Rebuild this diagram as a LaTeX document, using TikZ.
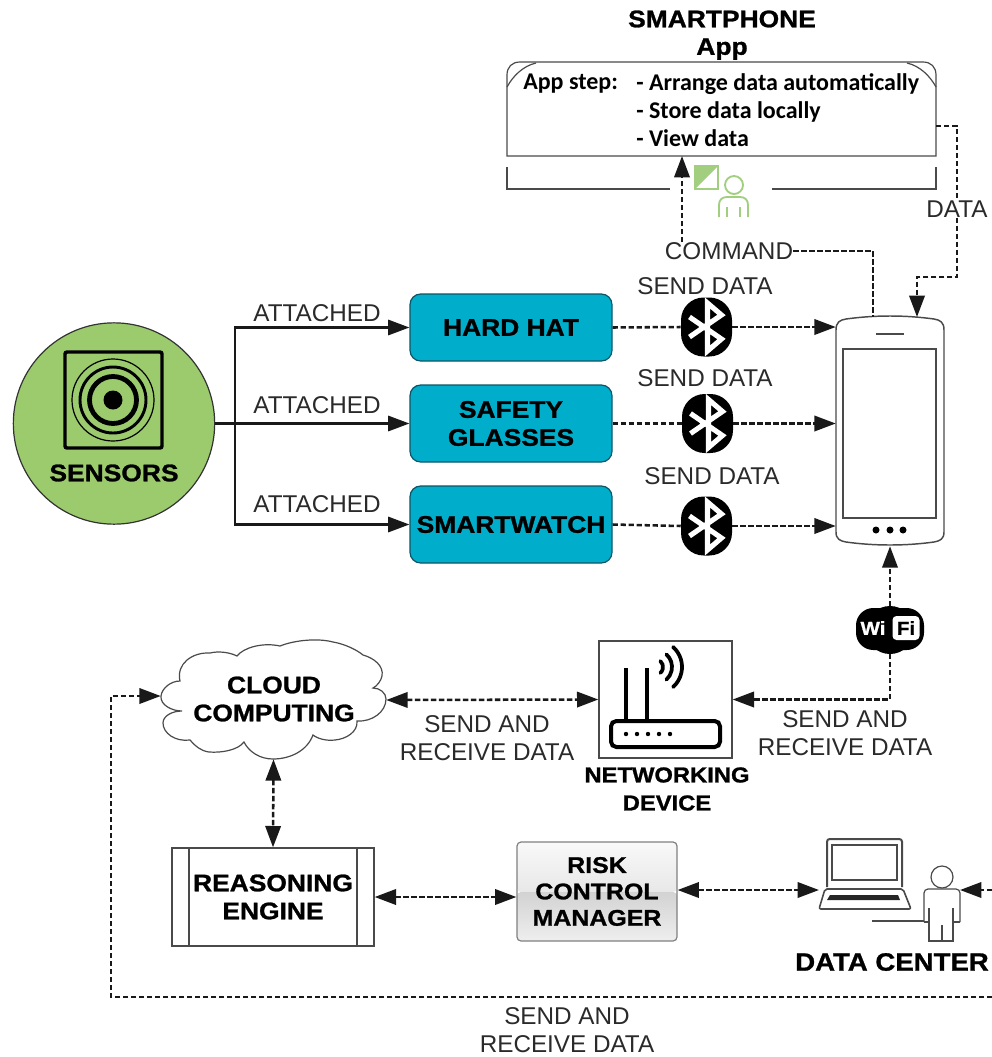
\documentclass[tikz,border=0pt]{standalone}
\usepackage{fontspec}
\usepackage{xcolor}
\setmainfont{Liberation Sans}
\newfontfamily\heavyfont[FakeStretch=1.1,FakeBold=1.1]{Liberation Sans Bold}
\newfontfamily\appfont{Carlito}
\usetikzlibrary{arrows.meta}
\definecolor{hatblue}{HTML}{00AECB}
\definecolor{hatedge}{HTML}{0B5566}
\definecolor{sensorgreen}{HTML}{9CCB6D}
\definecolor{usergreen}{HTML}{A2CE80}
\definecolor{inkgrey}{HTML}{2A2A2A}
\definecolor{edgegrey}{HTML}{4A4A4A}
\tikzset{
	bigtip/.tip={Triangle[length=16pt,width=11.5pt]},
	size/.style 2 args={minimum width=#1*0.75pt,minimum height=#2*0.75pt,inner sep=0pt},
	label/.style={font=\fontsize{18.2}{21}\selectfont,text=inkgrey,align=center,inner sep=0pt},
	title/.style={font=\heavyfont\fontsize{18}{21}\selectfont,text=black,align=center,inner sep=0pt},
	wire/.style={line width=1.7pt,draw=black!90},
	link/.style={line width=1.9pt,draw=black!90,dash pattern=on 4pt off 2pt},
	tagbox/.style={draw=hatedge,line width=0.9pt,fill=hatblue,rounded corners=8pt},
	thinline/.style={line width=0.9pt,draw=edgegrey}
}
\begin{document}
\begin{tikzpicture}[x=0.75pt,y=-0.75pt]
	\useasboundingbox (0,0) rectangle (992,1057);

	% App panel
	\node[title] (smart) at (722,19) {SMARTPHONE};
	\node[title] (applabel) at (722,49) {App};
	\node[size={429}{94}] (appbox) at (721.5,109) {};
	\draw[thinline] (507,156) -- (507,75) .. controls (507,67) and (512,62) .. (520,62) -- (923,62) .. controls (931,62) and (936,67) .. (936,75) -- (936,156) -- cycle;
	\draw[thinline] (507,87) .. controls (513,76) and (523,66) .. (536,63);
	\draw[thinline] (936,87) .. controls (930,76) and (920,66) .. (907,63);
	\draw[thinline] (507,167) -- (507,189) -- (670,189);
	\draw[thinline] (772,189) -- (936,189) -- (936,167);
	\node[anchor=base west,inner sep=0pt,font=\appfont\bfseries\fontsize{18}{21}\selectfont] (appstep) at (523,89) {App step:};
	\node[anchor=north west,inner sep=0pt,align=left,font=\appfont\bfseries\fontsize{18}{21.3}\selectfont] (appsteps) at (636,73) {- Arrange data automatically\\- Store data locally\\- View data};

	% Green user
	\fill[usergreen] (695,166) -- (718,166) -- (695,189) -- cycle;
	\draw[usergreen,line width=1.4pt] (695,166) rectangle (718,189);
	\draw[usergreen,line width=1.4pt] (734,185) circle (9);
	\draw[usergreen,line width=1.4pt] (719,217) -- (719,205) .. controls (719,200) and (722,197) .. (727,197) -- (740,197) .. controls (745,197) and (748,200) .. (748,205) -- (748,217);
	\draw[usergreen,line width=1.4pt] (727,207) -- (727,217);
	\draw[usergreen,line width=1.4pt] (740,207) -- (740,217);

	% Sensors
	\node[circle,draw=black!80,line width=0.9pt,fill=sensorgreen,minimum size=151pt,inner sep=0pt] (sensors) at (114,423.5) {};
	\draw[line width=2.6pt,rounded corners=1.5pt] (65,352) rectangle (162,448);
	\draw[line width=0.9pt] (113,400) circle (41);
	\draw[line width=2.2pt] (113,400) circle (33);
	\draw[line width=3.6pt] (113,400) circle (23.5);
	\fill (113,400) circle (9.5);
	\node[title] (sensorlabel) at (114,473) {SENSORS};

	% Wearables
	\node[tagbox,size={202}{67},title] (hardhat) at (511,327.5) {HARD HAT};
	\node[tagbox,size={202}{77},title] (glasses) at (511,423.5) {SAFETY\\GLASSES};
	\node[tagbox,size={202}{77},title] (watch) at (511,524.5) {SMARTWATCH};

	% Attached wires
	\coordinate (branch) at (235,423.5);
	\draw[wire,-bigtip] (sensors.east) -- (glasses.west);
	\draw[wire,-bigtip] (branch) |- (hardhat.west);
	\draw[wire,-bigtip] (branch) |- (watch.west);
	\node[label] (att1) at (317,313) {ATTACHED};
	\node[label] (att2) at (317,405) {ATTACHED};
	\node[label] (att3) at (317,504) {ATTACHED};

	% Phone
	\node[size={108}{230}] (phone) at (890,431) {};
	\draw[thinline,line width=1.1pt] (836,330) .. controls (836,322) and (840,320) .. (846,319) .. controls (875,315) and (905,315) .. (934,319) .. controls (940,320) and (944,322) .. (944,330) -- (944,532) .. controls (944,539) and (940,541) .. (934,542) .. controls (905,546) and (875,546) .. (846,542) .. controls (840,541) and (836,539) .. (836,532) -- cycle;
	\draw[thinline,line width=1.1pt] (843,349) rectangle (936,518);
	\draw[thinline] (876,334) -- (904,334);
	\foreach \dotx in {876,890,903}
		\fill (\dotx,530) circle (3.5);

	% Bluetooth badges
	\foreach \bname/\bx/\by in {bthat/706.5/327, btglass/707.5/423.5, btwatch/706.5/526}{
		\node[size={51}{59},fill=black,rounded corners=17pt] (\bname) at (\bx,\by) {};
		\begin{scope}[shift={(\bname.center)}]
			\draw[white,line width=3.8pt,line join=miter] (-17,-10) -- (15,12) -- (1,24) -- (1,-24) -- (15,-12) -- (-17,10);
		\end{scope}
	}
	\draw[link] (hardhat.east) -- (bthat.west);
	\draw[link,-bigtip] (bthat.east) -- (phone.west |- bthat.east);
	\draw[link] (glasses.east) -- (btglass.west);
	\draw[link,-bigtip] (btglass.east) -- (phone.west |- btglass.east);
	\draw[link] (watch.east) -- (btwatch.west);
	\draw[link,-bigtip] (btwatch.east) -- (phone.west |- btwatch.east);
	\node[label] (send1) at (705,286) {SEND DATA};
	\node[label] (send2) at (705,378) {SEND DATA};
	\node[label] (send3) at (712,476) {SEND DATA};

	% Command and data
	\node[label] (command) at (729,251) {COMMAND};
	\node[label] (datalabel) at (957,209) {DATA};
	\coordinate (cmdtop) at (682,156);
	\coordinate (cmdphone) at (873,317);
	\coordinate (datatop) at (936,126);
	\coordinate (dataphone) at (917,317);
	\draw[link,-bigtip] (command.north -| cmdtop) -- (cmdtop);
	\draw[link] (command.east) -| (cmdphone);
	\draw[link] (datatop) -| (datalabel.north);
	\draw[link,-bigtip] (datalabel.south) -- (957,277) -| (dataphone);

	% Wifi badge
	\node[size={68}{42},fill=black,rounded corners=13pt] (wifi) at (890,629) {};
	\fill[black] (890,630) ellipse (24 and 24);
	\node[inner sep=0pt,text=white,font=\heavyfont\fontsize{14}{15}\selectfont] (wi) at (873,628) {Wi};
	\node[size={27}{24},fill=white,rounded corners=3pt,text=black,font=\heavyfont\fontsize{14}{15}\selectfont] (fi) at (906,628) {Fi};
	\coordinate (wifitop) at (890,606);
	\coordinate (wifibot) at (890,654);
	\draw[link,-bigtip] (wifitop) -- (phone.south);

	% Router
	\node[size={133}{117},draw=edgegrey,line width=1pt] (router) at (665.5,699.5) {};
	\draw[line width=3pt,rounded corners=4pt] (611,721) rectangle (720,747);
	\draw[line width=3pt] (626,668) -- (626,721);
	\draw[line width=3pt] (647,668) -- (647,721);
	\foreach \ledx in {626,637,648,659,670}
		\fill (\ledx,734) circle (2.2);
	\foreach \rad in {8,17,27}
		\draw[line width=2.8pt,line cap=round] (655,667) ++(-48:\rad) arc (-48:48:\rad);
	\node[title,font=\heavyfont\fontsize{16.2}{21}\selectfont] (netlabel) at (667,789) {NETWORKING\\DEVICE};
	\draw[link,-bigtip] (wifibot) |- (router.east);
	\node[label] (srd1) at (845,733.5) {SEND AND\\RECEIVE DATA};

	% Cloud
	\node[size={225}{118}] (cloud) at (273.5,700) {};
	\draw[thinline,fill=white] (161,696) .. controls (162,688) and (171,681) .. (180,681)
		.. controls (176,664) and (192,652) .. (210,653) .. controls (218,651) and (229,652) .. (237,656)
		.. controls (243,648) and (262,642) .. (280,646) .. controls (295,640) and (318,638) .. (333,642)
		.. controls (345,644) and (357,650) .. (363,655) .. controls (374,658) and (384,666) .. (382,676)
		.. controls (381,681) and (377,686) .. (373,688) .. controls (380,688) and (386,693) .. (386,699)
		.. controls (386,712) and (372,722) .. (357,721) .. controls (358,732) and (346,739) .. (335,740)
		.. controls (327,741) and (318,739) .. (313,735) .. controls (307,751) and (290,759) .. (273,759)
		.. controls (260,759) and (249,752) .. (244,742) .. controls (238,750) and (222,753) .. (209,752)
		.. controls (201,751) and (195,746) .. (190,740) .. controls (175,742) and (163,733) .. (163,723)
		.. controls (163,716) and (172,711) .. (182,711) .. controls (172,711) and (160,705) .. (161,696) -- cycle;
	\node[title] (cloudlabel) at (274,699) {CLOUD\\COMPUTING};
	\node[label] (srd2) at (487,738) {SEND AND\\RECEIVE DATA};
	\draw[link,bigtip-bigtip] (cloud.east) -- (router.west);

	% Reasoning engine
	\node[size={202}{98},draw=edgegrey,line width=1pt,title] (engine) at (273,897) {REASONING\\ENGINE};
	\draw[thinline] (189,848) -- (189,946);
	\draw[thinline] (357,848) -- (357,946);
	\draw[link,bigtip-bigtip] (cloud.south) -- (engine.north);

	% Risk manager
	\shade[top color=white!95!gray,bottom color=gray!18,rounded corners=3pt] (517,842) rectangle (677,892);
	\shade[top color=gray!35,bottom color=gray!13,rounded corners=3pt] (517,892) rectangle (677,941);
	\node[size={160}{99},draw=gray,line width=0.9pt,rounded corners=3pt,title,font=\heavyfont\fontsize{17}{19.8}\selectfont] (risk) at (597,891.5) {RISK\\CONTROL\\MANAGER};
	\draw[link,bigtip-bigtip] (engine.east) -- (risk.west |- engine.east);

	% Data center
	\coordinate (laptop) at (819,890);
	\draw[thinline,line width=1.5pt,rounded corners=2pt] (827,887) -- (827,839) -- (902,839) -- (902,887);
	\draw[thinline,line width=1.2pt] (832,845) rectangle (897,880);
	\draw[thinline,line width=1.2pt,rounded corners=1.5pt] (825,889) -- (903,889) -- (911,909) -- (819,909) -- cycle;
	\fill[black!85] (830,895) -- (898,895) -- (900,900) -- (827,900) -- cycle;
	\draw[thinline] (872,921) -- (924,921);
	\node[circle,draw=edgegrey,line width=0.9pt,minimum size=16.5pt,inner sep=0pt] (head) at (942,877) {};
	\draw[thinline,rounded corners=3pt] (924,922) -- (924,889) -- (960,889) -- (960,922);
	\draw[thinline] (924,922) -- (929,922) -- (929,908);
	\draw[thinline] (960,922) -- (953,922) -- (953,908);
	\draw[thinline] (929,922) -- (929,941) -- (953,941) -- (953,922);
	\draw[thinline] (942,925) -- (942,941);
	\coordinate (personright) at (960,890);
	\coordinate (rightedge) at (992,890);
	\draw[link,bigtip-bigtip] (risk.east |- laptop) -- (laptop);
	\draw[link,-bigtip] (rightedge) -- (personright);
	\node[title,font=\heavyfont\fontsize{18.8}{21}\selectfont] (centerlabel) at (892,962) {DATA CENTER};

	% Outer loop
	\coordinate (loopleft) at (111,997);
	\coordinate (loopright) at (992,997);
	\draw[link,-bigtip] (loopright) -- (loopleft) |- (cloud.west |- 161,696);
	\node[label] (srd3) at (567,1030) {SEND AND\\RECEIVE DATA};
\end{tikzpicture}
\end{document}
